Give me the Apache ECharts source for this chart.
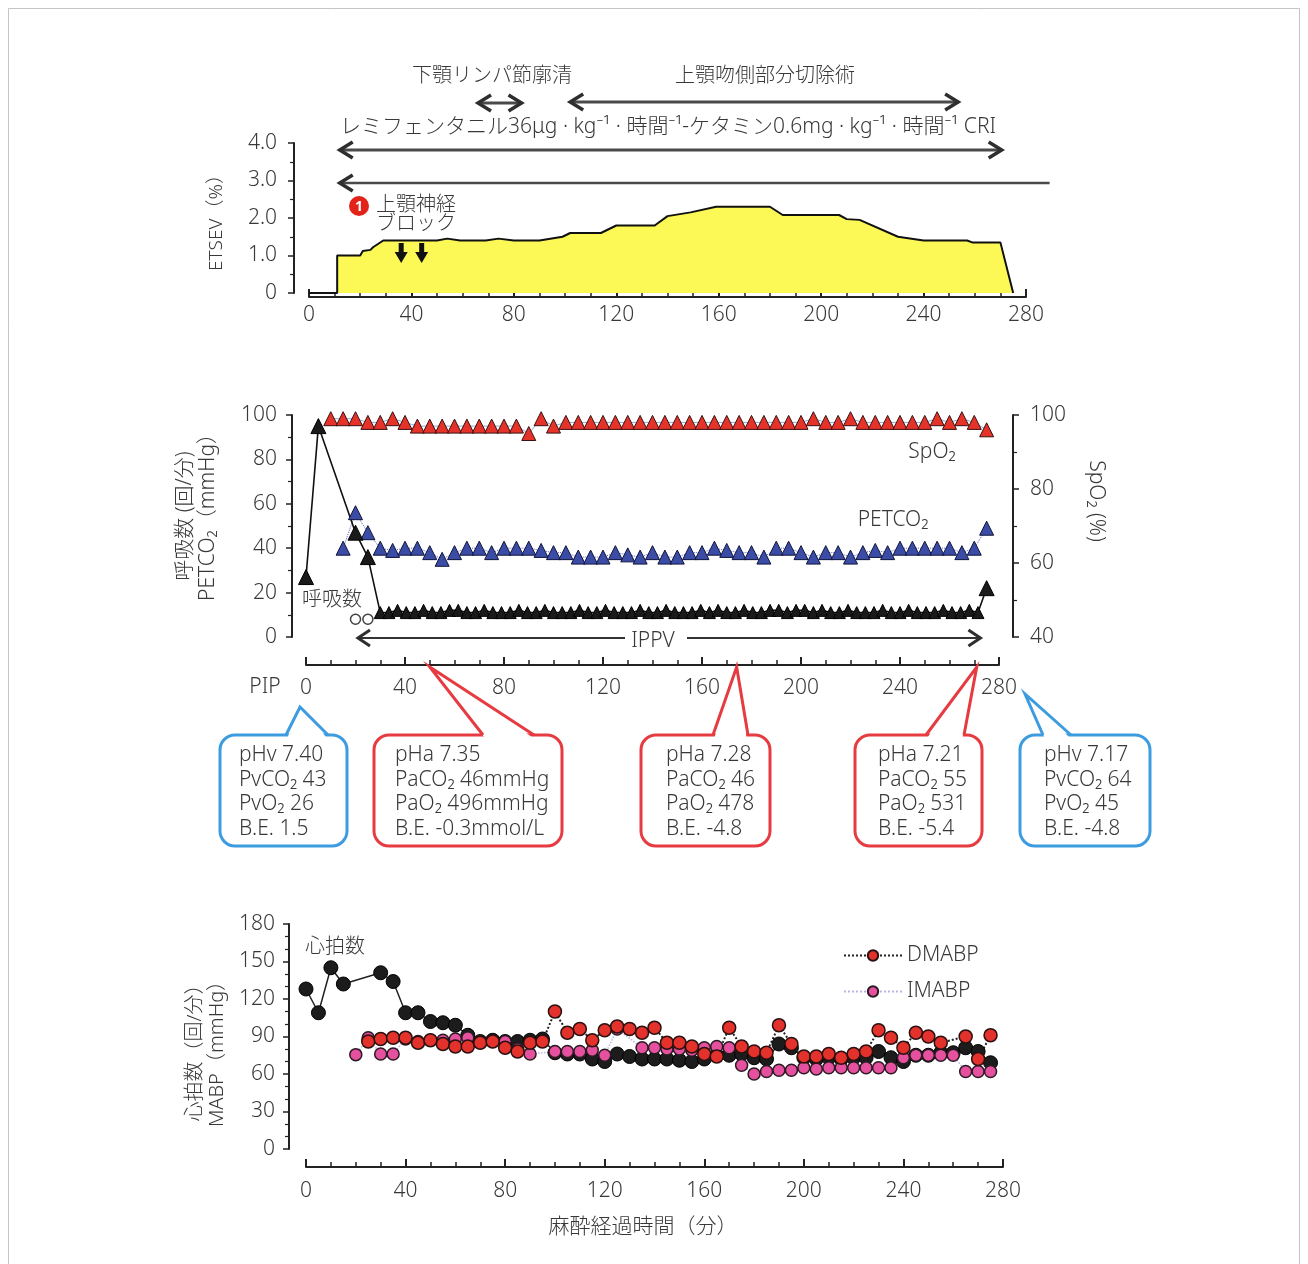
<!DOCTYPE html>
<html><head><meta charset="utf-8">
<script src="https://cdn.jsdelivr.net/npm/echarts@6/dist/echarts.min.js"></script>
<style>html,body{margin:0;padding:0;background:#fff}#c{width:1308px;height:1264px}</style>
</head><body><div id="c"></div>
<script>
// ===== data =====
const timeTickInterval = 40;
// ETSEV (%)
const etsevTimes  = [0,11,11,20,21,24,25,29,50,54,59,69,74,80,90,99,102,114,120,135,140,149,159,180,185,207,210,215,230,240,257,259,270,275];
const etsevValues = [0,0,1.0,1.0,1.12,1.15,1.22,1.4,1.4,1.45,1.4,1.4,1.45,1.4,1.4,1.5,1.6,1.6,1.8,1.8,2.05,2.15,2.3,2.3,2.08,2.08,1.97,1.95,1.5,1.4,1.4,1.35,1.35,0];
// SpO2 (%) right axis
const spo2Times  = [10,15,20,25,30,35,40,45,50,55,60,65,70,75,80,85,90,95,100,105,110,115,120,125,130,135,140,145,150,155,160,165,170,175,180,185,190,195,200,205,210,215,220,225,230,235,240,245,250,255,260,265,270,275];
const spo2Values = [99,99,99,98,98,99,98,97,97,97,97,97,97,97,97,97,95,99,97,98,98,98,98,98,98,98,98,98,98,98,98,98,98,98,98,98,98,98,98,99,98,98,99,98,98,98,98,98,98,99,98,99,98,96];
// PETCO2 (mmHg)
const petco2Times  = [15,20,25,30,35,40,45,50,55,60,65,70,75,80,85,90,95,100,105,110,115,120,125,130,135,140,145,150,155,160,165,170,175,180,185,190,195,200,205,210,215,220,225,230,235,240,245,250,255,260,265,270,275];
const petco2Values = [40,56,47,40,39,40,40,38,35,38,40,40,38,40,40,40,39,38,38,36,36,36,38,37,36,38,36,36,38,38,40,39,38,38,36,40,40,38,36,38,38,36,38,39,38,40,40,40,40,40,38,40,49];
// respiratory rate (/min)
const respTimes  = [0,5,20,25,30,33.5,37,40.5,44,47.5,51,54.5,58,61.5,65,68.5,72,75.5,79,82.5,86,89.5,93,96.5,100,103.5,107,110.5,114,117.5,121,124.5,128,131.5,135,138.5,142,145.5,149,152.5,156,159.5,163,166.5,170,173.5,177,180.5,184,187.5,191,194.5,198,201.5,205,208.5,212,215.5,219,222.5,226,229.5,233,236.5,240,243.5,247,250.5,254,257.5,261,264.5,268,271.5,275];
const respValues = [27,95,47,36,11,11,12,11,11,12,11,11,12,12,11,11,12,11,11,11,12,11,11,12,11,11,11,12,11,11,12,11,11,11,12,11,11,12,11,11,11,12,11,12,11,11,12,11,11,12,12,11,12,12,11,12,11,11,12,11,11,11,12,11,11,12,11,11,11,12,11,11,12,11,22];
const spontTimes  = [20,25];
const spontValues = [8,8];
// heart rate & MABP
const hrTimes  = [0,5,10,15,30,35,40,45,50,55,60,65,70,75,80,85,90,95,100,105,110,115,120,125,130,135,140,145,150,155,160,165,170,175,180,185,190,195,200,205,210,215,220,225,230,235,240,245,250,255,260,265,270,275];
const hrValues = [128,109,145,132,141,134,109,109,102,101,99,91,86,87,86,86,87,88,77,76,76,72,70,76,74,72,72,72,71,70,72,75,75,76,73,72,84,81,73,72,73,72,73,73,78,73,70,75,75,77,77,81,78,69];
const dmabpTimes  = [25,30,35,40,45,50,55,60,65,70,75,80,85,90,95,100,105,110,115,120,125,130,135,140,145,150,155,160,165,170,175,180,185,190,195,200,205,210,215,220,225,230,235,240,245,250,255,265,270,275];
const dmabpValues = [86,88,89,89,85,87,84,82,82,85,86,81,78,85,86,110,93,96,87,95,98,96,93,97,85,85,82,76,74,97,82,78,77,99,84,74,74,76,73,76,78,95,89,81,93,90,85,90,72,91];
const imabpTimes  = [20,25,30,35,40,45,50,55,60,65,70,75,80,85,90,100,105,110,115,120,125,135,140,145,150,155,160,165,170,175,180,185,190,195,200,205,210,215,220,225,230,235,240,245,250,255,260,265,270,275];
const imabpValues = [75.5,89,76,76,88,86,87,87,88,89,86,86,86,80,76,78,78,78,79,75,96,81,81,80,80,79,81,82,81,67,60,62,63,63,65,64,65,65,65,65,65,65,73,75,75,75,75,62,62,62];
// annotation times (min)
const procedures = [{label:'下顎リンパ節廓清', from:66, to:83}, {label:'上顎吻側部分切除術', from:102, to:253.5}];
const criSpan = [12, 270.5];
const isoSpan = [12, 290];
const blockTimes = [36, 44];
const ippvSpan = [21, 272.5];
const abgTimes = [50, 174, 271];
const boxTexts = [
  'pHv 7.40\nPvCO₂ 43\nPvO₂ 26\nB.E. 1.5',
  'pHa 7.35\nPaCO₂ 46mmHg\nPaO₂ 496mmHg\nB.E. -0.3mmol/L',
  'pHa 7.28\nPaCO₂ 46\nPaO₂ 478\nB.E. -4.8',
  'pHa 7.21\nPaCO₂ 55\nPaO₂ 531\nB.E. -5.4',
  'pHv 7.17\nPvCO₂ 64\nPvO₂ 45\nB.E. -4.8'
];

// ===== chart =====
const zip = (a, b) => a.map((t, i) => [t, b[i]]);
const FONT = '"Noto Sans", "Noto Sans CJK JP", sans-serif';
const FW = 300;
const TXT = '#383838';
const AX = '#222';

function xAx(gi, offset, margin) {
  return {type:'value', gridIndex:gi, min:0, max:280, interval:timeTickInterval, position:'bottom', offset:offset,
    axisLine:{show:true, onZero:false, lineStyle:{color:AX, width:2}},
    axisTick:{show:true, inside:true, length:8, lineStyle:{color:AX, width:2}},
    minorTick:{show:true, splitNumber:4, length:5, lineStyle:{color:AX, width:1.5}},
    splitLine:{show:false}, minorSplitLine:{show:false},
    axisLabel:{color:TXT, fontSize:21, fontWeight:FW, fontFamily:FONT, margin:margin}};
}
function yAx(gi, min, max, interval, offset, margin, pos, minorSplit, fmt) {
  return {type:'value', gridIndex:gi, min:min, max:max, interval:interval, position:pos, offset:offset,
    axisLine:{show:true, onZero:false, lineStyle:{color:AX, width:2}},
    axisTick:{show:true, inside:false, length:6, lineStyle:{color:AX, width:1.5}},
    minorTick:{show:true, splitNumber:minorSplit, length:4, lineStyle:{color:AX, width:1.2}},
    splitLine:{show:false}, minorSplitLine:{show:false},
    axisLabel:{color:TXT, fontSize:21, fontWeight:FW, fontFamily:FONT, margin:margin, formatter:fmt}};
}

const chart = echarts.init(document.getElementById('c'), null, {renderer:'canvas'});
const option = {
  backgroundColor:'#fff',
  animation:false,
  grid:[
    {left:309, right:282, top:143, height:150},
    {left:306, right:309, top:415, height:222},
    {left:306, right:305, top:924, height:225}
  ],
  xAxis:[ xAx(0, 4, 8), xAx(1, 28, 13), xAx(2, 18, 14) ],
  yAxis:[
    yAx(0, 0, 4, 1, 15, 17, 'left', 2, v => v === 0 ? '0' : v.toFixed(1)),
    yAx(1, 0, 100, 20, 14, 15, 'left', 2),
    yAx(1, 40, 100, 20, 14, 17, 'right', 2),
    yAx(2, 0, 180, 30, 17, 14, 'left', 3)
  ],
  legend:{data:['DMABP','IMABP'], orient:'vertical', left:838, top:940, itemWidth:58, itemHeight:13, itemGap:15,
    selectedMode:false, textStyle:{fontSize:21, fontWeight:FW, color:TXT, fontFamily:FONT}},
  series:[
    {name:'ETSEV', type:'line', xAxisIndex:0, yAxisIndex:0, data:zip(etsevTimes, etsevValues), symbol:'none',
      lineStyle:{color:'#111', width:2}, areaStyle:{color:'#fcf957', opacity:1}},
    {name:'SpO2', type:'line', xAxisIndex:1, yAxisIndex:2, data:zip(spo2Times, spo2Values), symbol:'triangle', symbolSize:14,
      lineStyle:{color:'#7fb0d8', width:1}, itemStyle:{color:'#e5332a', borderColor:'#3a1010', borderWidth:1}},
    {name:'PETCO2', type:'line', xAxisIndex:1, yAxisIndex:1, data:zip(petco2Times, petco2Values), symbol:'triangle', symbolSize:14,
      lineStyle:{color:'#5a62c8', width:1, type:'dotted'}, itemStyle:{color:'#3b4ca6', borderColor:'#10143a', borderWidth:1}},
    {name:'呼吸数', type:'line', xAxisIndex:1, yAxisIndex:1, data:zip(respTimes, respValues), symbol:'triangle',
      symbolSize:(v, p) => (p.dataIndex < 4 || p.dataIndex === respTimes.length - 1) ? 15 : 12,
      lineStyle:{color:'#111', width:1.6}, itemStyle:{color:'#1a1a1a', borderColor:'#000', borderWidth:1}},
    {name:'spont', type:'scatter', xAxisIndex:1, yAxisIndex:1, data:zip(spontTimes, spontValues), symbol:'circle', symbolSize:10,
      itemStyle:{color:'#fff', borderColor:'#111', borderWidth:1.5}},
    {name:'心拍数', type:'line', xAxisIndex:2, yAxisIndex:3, data:zip(hrTimes, hrValues), symbol:'circle', symbolSize:14,
      lineStyle:{color:'#222', width:1.5}, itemStyle:{color:'#1c1c1c', borderColor:'#000', borderWidth:1}},
    {name:'IMABP', type:'line', xAxisIndex:2, yAxisIndex:3, data:zip(imabpTimes, imabpValues), symbol:'circle', symbolSize:12,
      lineStyle:{color:'#b9b6e6', width:1.5, type:'dotted'}, itemStyle:{color:'#e5519f', borderColor:'#2a1a22', borderWidth:1.5}},
    {name:'DMABP', type:'line', xAxisIndex:2, yAxisIndex:3, data:zip(dmabpTimes, dmabpValues), symbol:'circle', symbolSize:13,
      lineStyle:{color:'#222', width:2, type:'dotted'}, itemStyle:{color:'#e3312b', borderColor:'#2a1010', borderWidth:1.5}}
  ]
};
chart.setOption(option);

// ===== annotations =====
const X0 = t => chart.convertToPixel({xAxisIndex:0, yAxisIndex:0}, [t, 0])[0];
const X1 = t => chart.convertToPixel({xAxisIndex:1, yAxisIndex:1}, [t, 0])[0];
const G = [];
function T(x, y, text, size, o) {
  o = o || {};
  const st = {text:text, font:(o.fw || FW) + ' ' + size + 'px ' + FONT, fill:o.color || TXT, textAlign:o.align || 'center', textVerticalAlign:o.va || 'middle'};
  if (o.lh) st.lineHeight = o.lh;
  G.push({type:'text', x:x, y:y, rotation:o.rot || 0, z:o.z || 110, style:st});
}
function L(x1, y1, x2, y2, color, w) {
  G.push({type:'line', z:100, shape:{x1:x1, y1:y1, x2:x2, y2:y2}, style:{stroke:color, lineWidth:w}});
}
function head(x, y, dir, len, hh, color, w) {
  G.push({type:'polyline', z:101, shape:{points:[[x - dir * len, y - hh], [x, y], [x - dir * len, y + hh]]},
    style:{stroke:color, lineWidth:w, fill:null, lineJoin:'miter'}});
}
function arrow(xa, xb, y, left, right, lw) {
  L(xa + 2, y, xb - 2, y, '#4a4a4a', lw);
  if (left) head(xa, y, -1, 13, 8, '#2e2e2e', 3.5);
  if (right) head(xb, y, 1, 13, 8, '#2e2e2e', 3.5);
}

// frame
G.push({type:'rect', z:0, shape:{x:8.5, y:8.5, width:1291, height:1275}, style:{fill:null, stroke:'#c4c4c4', lineWidth:1}});

// top panel
T(492, 76, procedures[0].label, 20);
T(765, 76, procedures[1].label, 20);
arrow(X0(procedures[0].from), X0(procedures[0].to), 103, true, true, 3);
arrow(X0(procedures[1].from), X0(procedures[1].to), 102, true, true, 3);
T(668, 127, 'レミフェンタニル36μg · kg⁻¹ · 時間⁻¹-ケタミン0.6mg · kg⁻¹ · 時間⁻¹ CRI', 21);
arrow(X0(criSpan[0]), X0(criSpan[1]), 150, true, true, 3);
arrow(X0(isoSpan[0]), X0(isoSpan[1]), 183, true, false, 2.5);
G.push({type:'circle', z:105, shape:{cx:359, cy:206, r:10}, style:{fill:'#e2231a'}});
T(359, 207, '1', 14, {color:'#fff', z:106, fw:700});
T(376, 205, '上顎神経', 20, {align:'left'});
T(376, 224, 'ブロック', 20, {align:'left'});
blockTimes.forEach(t => {
  const x = X0(t);
  G.push({type:'polygon', z:105, shape:{points:[[x-2.5,243],[x+2.5,243],[x+2.5,252],[x+6.5,252],[x,263],[x-6.5,252],[x-2.5,252]]}, style:{fill:'#111'}});
});
T(217, 218, 'ETSEV（%）', 19, {rot:Math.PI / 2});

// middle panel
T(932, 452, 'SpO₂', 21);
T(893, 520, 'PETCO₂', 21);
T(332, 600, '呼吸数', 20);
{
  const xa = X1(ippvSpan[0]), xb = X1(ippvSpan[1]);
  L(xa + 2, 638, 625, 638, '#333', 2);
  L(687, 638, xb - 2, 638, '#333', 2);
  head(xa, 638, -1, 12, 8, '#2e2e2e', 3);
  head(xb, 638, 1, 12, 8, '#2e2e2e', 3);
  T(653, 641, 'IPPV', 21);
}
T(185, 516, '呼吸数 (回/分)', 21, {rot:Math.PI / 2});
T(208, 512, 'PETCO₂（mmHg）', 21, {rot:Math.PI / 2});
T(1096, 501, 'SpO₂ (%)', 21, {rot:-Math.PI / 2});
T(265, 687, 'PIP', 21);

// callout boxes
const boxes = [
  {l:220, r:347, c:'#3d9be0', b:[286, 328], tip:[300, 707], tx:239},
  {l:374, r:562, c:'#e63b40', b:[483, 534], tip:[X1(abgTimes[0]), 667], tx:395},
  {l:641, r:770, c:'#e63b40', b:[713, 748], tip:[X1(abgTimes[1]), 667], tx:666},
  {l:855, r:982, c:'#e63b40', b:[926, 964], tip:[X1(abgTimes[2]), 667], tx:878},
  {l:1020, r:1150, c:'#3d9be0', b:[1043, 1071], tip:[1025, 694], tx:1044}
];
const bt = 735, bb = 846;
boxes.forEach((bx, i) => {
  G.push({type:'rect', z:100, shape:{x:bx.l, y:bt, width:bx.r - bx.l, height:bb - bt, r:15}, style:{fill:'#fff', stroke:bx.c, lineWidth:3}});
  G.push({type:'polygon', z:101, shape:{points:[[bx.b[0] + 1.5, bt + 2.5], bx.tip, [bx.b[1] - 1.5, bt + 2.5]]}, style:{fill:'#fff'}});
  G.push({type:'polyline', z:102, shape:{points:[[bx.b[0], bt], bx.tip, [bx.b[1], bt]]}, style:{stroke:bx.c, lineWidth:3, fill:null, lineJoin:'miter'}});
  T(bx.tx, 743, boxTexts[i], 21, {align:'left', va:'top', lh:24.5, z:103});
});

// bottom panel
T(335, 947, '心拍数', 20);
T(195, 1048, '心拍数（回/分）', 20, {rot:Math.PI / 2});
T(217, 1049, 'MABP（mmHg）', 20, {rot:Math.PI / 2});
T(643, 1227, '麻酔経過時間（分）', 21);

chart.setOption({graphic:{elements:G}});
</script></body></html>
